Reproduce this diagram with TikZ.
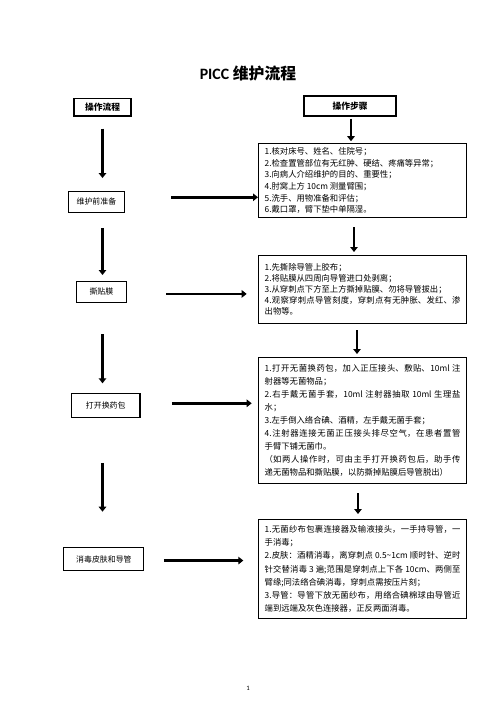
\documentclass[tikz,border=0pt]{standalone}
\usepackage{fontspec}
\setmainfont{Noto Sans CJK SC}
\newfontfamily\latinfont{Carlito}
\usetikzlibrary{arrows.meta}
\XeTeXlinebreaklocale "zh"
\XeTeXlinebreakskip = 0pt plus 1pt
\tikzstyle{head box}   = [draw, line width=1.5pt, inner sep=0pt, font=\fontsize{10.5}{12}\selectfont\bfseries]
\tikzstyle{side box}   = [draw, line width=1.4pt, inner sep=0pt, anchor=north west, font=\fontsize{9.5}{11}\selectfont]
\tikzstyle{step box}   = [draw, line width=1.4pt, inner sep=0pt, anchor=north west, text width=235pt, align=justify, minimum width=249.6pt]
\tikzstyle{flow arrow} = [line width=3.2pt, -{Triangle[width=9pt,length=6pt]}]

\begin{document}
\begin{tikzpicture}[x=1.2pt, y=-1.2pt]
\useasboundingbox (0,0) rectangle (496,702);

    \node(title) at (248,73.5) {\fontsize{19}{22}\selectfont\bfseries{\latinfont PICC} 维护流程};

    % headers
    \node(hdr)[head box, minimum width=68.4pt, minimum height=21.2pt] at (102.5,107.2) {操作流程};
    \node(hdr2)[head box, minimum width=110.4pt, minimum height=24pt] at (350,106) {操作步骤};

    % left column
    \node(prep)[side box, minimum width=67.6pt, minimum height=25.2pt] at (67.7,190.7) {维护前准备};
    \node(peel)[side box, minimum width=60.4pt, minimum height=24.8pt] at (75.7,281) {撕贴膜};
    \node(open)[side box, minimum width=82pt, minimum height=28.8pt] at (71,393.3) {打开换药包};
    \node(dis)[side box, minimum width=96pt, minimum height=27.2pt] at (63.3,547.3) {消毒皮肤和导管};

    % right column
    \node(s1)[step box, minimum height=89.5pt, font=\fontsize{10}{14}\selectfont] at (258,142.7) {
        1.核对床号、姓名、住院号；\par
        2.检查置管部位有无红肿、硬结、疼痛等异常；\par
        3.向病人介绍维护的目的、重要性；\par
        4.肘窝上方 10cm 测量臂围；\par
        5.洗手、用物准备和评估；\par
        6.戴口罩，臂下垫中单隔湿。};
    \node(s2)[step box, minimum height=81.6pt, font=\fontsize{10}{13.2}\selectfont] at (258,255) {
        1.先撕除导管上胶布；\par
        2.将贴膜从四周向导管进口处剥离；\par
        3.从穿刺点下方至上方撕掉贴膜、勿将导管拔出；\par
        4.观察穿刺点导管刻度，穿刺点有无肿胀、发红、渗\linebreak 出物等。};
    \node(s3)[step box, minimum height=151.2pt, font=\fontsize{10}{15.7}\selectfont] at (258,357) {
        1.打开无菌换药包，加入正压接头、敷贴、10ml 注\linebreak 射器等无菌物品；\par
        2.右手戴无菌手套，10ml 注射器抽取 10ml 生理盐\linebreak 水；\par
        3.左手倒入络合碘、酒精，左手戴无菌手套；\par
        4.注射器连接无菌正压接头排尽空气，在患者置管\linebreak 手臂下铺无菌巾。\par
        （如两人操作时，可由主手打开换药包后，助手传\linebreak 递无菌物品和撕贴膜，以防撕掉贴膜后导管脱出）};
    \node(s4)[step box, minimum height=118.8pt, font=\fontsize{10}{15.8}\selectfont] at (258,519) {
        1.无菌纱布包裹连接器及输液接头，一手持导管，一\linebreak 手消毒；\par
        2.皮肤：酒精消毒，离穿刺点 0.5\char`\~1cm 顺时针、逆时\linebreak 针交替消毒 3 遍;范围是穿刺点上下各 10cm、两侧至\linebreak 臂缘;同法络合碘消毒，穿刺点需按压片刻；\par
        3.导管：导管下放无菌纱布，用络合碘棉球由导管近\linebreak 端到远端及灰色连接器，正反两面消毒。};

    \node(pg) at (248,688) {\fontsize{8}{9}\selectfont\latinfont 1};

    % down the left
    \draw[flow arrow, shorten <=14.4pt, shorten >=15.2pt](hdr.south)to(hdr.south |- prep.north);
    \draw[flow arrow, shorten <=18pt, shorten >=7.2pt](prep.south -| hdr.south)to(peel.north -| hdr.south);
    \draw[flow arrow, shorten <=37.6pt, shorten >=12pt](peel.south -| hdr.south)to(open.north -| hdr.south);
    \draw[flow arrow, shorten <=53.3pt, shorten >=42.7pt](open.south -| hdr.south)to(dis.north -| hdr.south);

    % across
    \draw[flow arrow, shorten <=55pt]([yshift=5.4pt]prep.east)to([yshift=5.4pt]prep.east -| s1.west);
    \draw[flow arrow, shorten <=47pt, shorten >=13.6pt]([yshift=-2.4pt]peel.east)to([yshift=-2.4pt]peel.east -| s2.west);
    \draw[flow arrow, shorten <=37.7pt, shorten >=7.6pt]([yshift=3.1pt]open.east)to([yshift=3.1pt]open.east -| s3.west);
    \draw[flow arrow, shorten <=23.3pt, shorten >=17.6pt]([yshift=-1.6pt]dis.east)to([yshift=-1.6pt]dis.east -| s4.west);

    % down the right
    \draw[flow arrow, shorten <=2.4pt, shorten >=1.8pt]([xshift=1.2pt]hdr2.south)to([xshift=1.2pt]hdr2.south |- s1.north);
    \draw[flow arrow, shorten <=10.8pt, shorten >=3.6pt]([xshift=4.8pt]hdr2.south |- s1.south)to([xshift=4.8pt]hdr2.south |- s2.north);
    \draw[flow arrow, shorten <=7.2pt, shorten >=3.6pt]([xshift=8.4pt]hdr2.south |- s2.south)to([xshift=8.4pt]hdr2.south |- s3.north);
    \draw[flow arrow, shorten <=10.8pt, shorten >=6pt]([xshift=9.6pt]hdr2.south |- s3.south)to([xshift=9.6pt]hdr2.south |- s4.north);

\end{tikzpicture}
\end{document}
